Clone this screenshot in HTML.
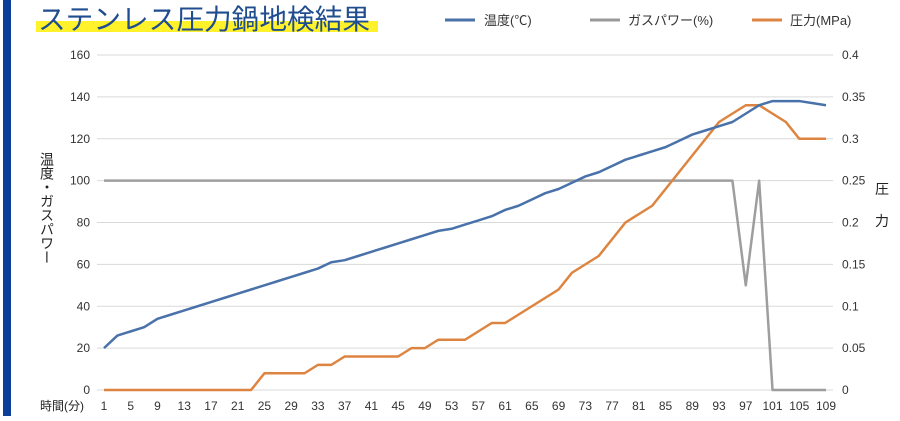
<!DOCTYPE html>
<html><head><meta charset="utf-8"><style>
body{margin:0;background:#fff;width:900px;height:416px;overflow:hidden;font-family:"Liberation Sans","Noto Sans CJK JP",sans-serif}
svg text{font-family:"Liberation Sans","Noto Sans CJK JP",sans-serif}
</style></head><body>
<svg id="c" width="900" height="416">
<rect x="3" y="0" width="8" height="416" fill="#0b3f99"/>
<rect x="36" y="21" width="342" height="11" fill="#fff22a"/>
<text x="38" y="29" font-size="28" fill="#1f4d8f" font-weight="normal" textLength="332" lengthAdjust="spacingAndGlyphs">ステンレス圧力鍋地検結果</text>
<g>
<g><line x1="445" y1="20" x2="475" y2="20" stroke="#4a72aa" stroke-width="3"/><text x="484" y="25" font-size="13" fill="#333">温度(℃)</text></g>
<g><line x1="590" y1="20" x2="620" y2="20" stroke="#999" stroke-width="3"/><text x="628" y="25" font-size="13" fill="#333">ガスパワー(%)</text></g>
<g><line x1="752" y1="20" x2="782" y2="20" stroke="#dd8440" stroke-width="3"/><text x="790" y="25" font-size="13" fill="#333">圧力(MPa)</text></g>
</g>
<text x="47" y="152" font-size="14" fill="#222" style="writing-mode:vertical-rl">温度・ガスパワー</text>
<text x="875" y="194" font-size="14" fill="#222">圧</text>
<text x="875" y="226" font-size="14" fill="#222">力</text>
<text x="40" y="410" font-size="12" fill="#222">時間(分)</text>
<g id="grid"></g><g id="series"></g>
</svg>
<script>
const minutes=[1,3,5,7,9,11,13,15,17,19,21,23,25,27,29,31,33,35,37,39,41,43,45,47,49,51,53,55,57,59,61,63,65,67,69,71,73,75,77,79,81,83,85,87,89,91,93,95,97,99,101,103,105,107,109];
const temperature=[20,26,28,30,34,36,38,40,42,44,46,48,50,52,54,56,58,61,62,64,66,68,70,72,74,76,77,79,81,83,86,88,91,94,96,99,102,104,107,110,112,114,116,119,122,124,126,128,132,136,138,138,138,137,136];
const gasPower=[100,100,100,100,100,100,100,100,100,100,100,100,100,100,100,100,100,100,100,100,100,100,100,100,100,100,100,100,100,100,100,100,100,100,100,100,100,100,100,100,100,100,100,100,100,100,100,100,50,100,0,0,0,0,0];
const pressure=[0,0,0,0,0,0,0,0,0,0,0,0,0.02,0.02,0.02,0.02,0.03,0.03,0.04,0.04,0.04,0.04,0.04,0.05,0.05,0.06,0.06,0.06,0.07,0.08,0.08,0.09,0.10,0.11,0.12,0.14,0.15,0.16,0.18,0.20,0.21,0.22,0.24,0.26,0.28,0.30,0.32,0.33,0.34,0.34,0.33,0.32,0.30,0.30,0.30];
const leftTicks=[0,20,40,60,80,100,120,140,160];
const rightTicks=["0","0.05","0.1","0.15","0.2","0.25","0.3","0.35","0.4"];
const xTicks=[1,5,9,13,17,21,25,29,33,37,41,45,49,53,57,61,65,69,73,77,81,85,89,93,97,101,105,109];
const NS="http://www.w3.org/2000/svg";
const x=m=>104+(m-1)*(826-104)/108;
const yL=v=>390-v*(335/160);
const yR=v=>390-v*(335/0.4);
const grid=document.getElementById('grid'),ser=document.getElementById('series');
function mk(tag,attrs,parent){const e=document.createElementNS(NS,tag);for(const k in attrs)e.setAttribute(k,attrs[k]);parent.appendChild(e);return e;}
leftTicks.forEach((t,i)=>{
 const l=mk('line',{x1:97,x2:833,y1:yL(t),y2:yL(t),stroke:'#d9d9d9','stroke-width':1},grid);
 
 
 const a=mk('text',{x:90,y:yL(t)+4,'font-size':12,fill:'#333','text-anchor':'end'},grid);a.textContent=t;
 
 
 const b=mk('text',{x:842,y:yL(t)+4,'font-size':12,fill:'#333'},grid);b.textContent=rightTicks[i];
 
 
});
xTicks.forEach(m=>{
 const t=mk('text',{x:x(m),y:410,'font-size':12,fill:'#333','text-anchor':'middle'},grid);t.textContent=m;
 
 
});
function line(vals,yf,color,name){
 const p=mk('polyline',{points:vals.map((v,i)=>x(minutes[i])+','+yf(v)).join(' '),fill:'none',stroke:color,'stroke-width':2.5,'stroke-linejoin':'round'},ser);
 
 
}
line(gasPower,yL,'#9e9e9e','gas-power-line');
line(pressure,yR,'#dd8440','pressure-line');
line(temperature,yL,'#4a72aa','temperature-line');
</script>
</body></html>
